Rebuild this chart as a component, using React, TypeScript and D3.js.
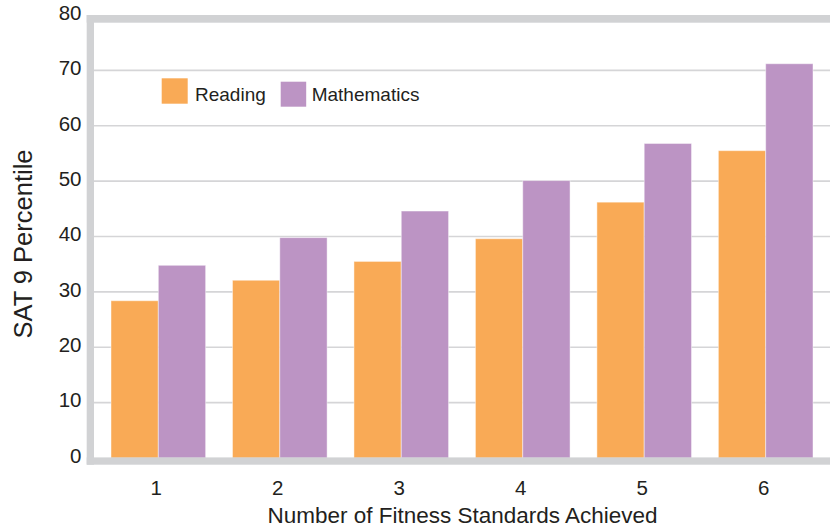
import React from "react";
import * as d3 from "d3";

const categories = ["1", "2", "3", "4", "5", "6"];
const seriesNames = ["Reading", "Mathematics"];
const reading = [28.4, 32.1, 35.5, 39.6, 46.2, 55.5];
const mathematics = [34.8, 39.8, 44.6, 50.1, 56.8, 71.2];
const yTicks = [0, 10, 20, 30, 40, 50, 60, 70, 80];
const colors = ["#f9aa56", "#bc94c4"];

const W = 830;
const H = 528;
const FONT = "'Liberation Sans', Arial, Helvetica, sans-serif";
const TEXT = "#231f20";
const FRAME = "#d1d2d4";
const GRID = "#d5d5d7";

export default function App() {
  const plotLeft = 94;
  const plotRight = 830;
  const y = d3.scaleLinear().domain([0, 80]).range([458, 15]);
  const x0 = d3
    .scaleBand<string>()
    .domain(categories)
    .range([plotLeft, plotRight])
    .paddingInner(0.221)
    .paddingOuter(0.14);
  const x1 = d3
    .scaleBand<string>()
    .domain(seriesNames)
    .range([0, x0.bandwidth()])
    .padding(0);
  const series = [reading, mathematics];

  return (
    <svg
      width={W}
      height={H}
      style={{ position: "absolute", left: 0, top: 0, display: "block", background: "#fff" }}
      fontFamily={FONT}
    >
      {/* gridlines */}
      {yTicks
        .filter((t) => t > 0 && t < 80)
        .map((t) => (
          <line
            key={t}
            x1={plotLeft}
            x2={plotRight}
            y1={y(t)}
            y2={y(t)}
            stroke={GRID}
            strokeWidth={1.6}
          />
        ))}
      {/* bars */}
      {categories.map((c, i) => (
        <g key={c} transform={`translate(${x0(c)},0)`}>
          {seriesNames.map((s, j) => (
            <rect
              key={s}
              x={x1(s)}
              y={y(series[j][i])}
              width={x1.bandwidth()}
              height={y(0) - y(series[j][i])}
              fill={colors[j]}
              stroke="rgba(255,255,255,0.45)"
              strokeWidth={1}
            />
          ))}
        </g>
      ))}
      {/* frame */}
      <rect x={86.7} y={15} width={plotRight - 86.7} height={7.7} fill={FRAME} />
      <rect x={86.7} y={15} width={7.3} height={449.7} fill={FRAME} />
      <rect x={86.7} y={457.4} width={plotRight - 86.7} height={7.3} fill={FRAME} />
      {/* y tick labels */}
      {yTicks.map((t) => (
        <text
          key={t}
          x={81.5}
          y={y(t) + 4.8}
          textAnchor="end"
          fontSize={20.5}
          fill={TEXT}
        >
          {t}
        </text>
      ))}
      {/* x tick labels */}
      {categories.map((c) => (
        <text
          key={c}
          x={(x0(c) as number) + x0.bandwidth() / 2 - 2}
          y={494.5}
          textAnchor="middle"
          fontSize={20.5}
          fill={TEXT}
        >
          {c}
        </text>
      ))}
      {/* axis titles */}
      <text x={462.5} y={523} textAnchor="middle" fontSize={22.5} fill={TEXT}>
        Number of Fitness Standards Achieved
      </text>
      <text
        transform="translate(31.5,244) rotate(-90)"
        textAnchor="middle"
        fontSize={25.5}
        fill={TEXT}
      >
        SAT 9 Percentile
      </text>
      {/* legend */}
      <rect x={161.7} y={78.3} width={26} height={25.4} fill={colors[0]} />
      <text x={195} y={100.7} fontSize={19} fill={TEXT}>
        {seriesNames[0]}
      </text>
      <rect x={280.7} y={81.7} width={25.5} height={25} fill={colors[1]} />
      <text x={311.7} y={100.7} fontSize={19} fill={TEXT}>
        {seriesNames[1]}
      </text>
    </svg>
  );
}
